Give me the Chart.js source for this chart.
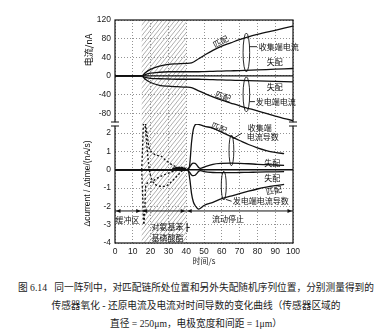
<!DOCTYPE html>
<html><head><meta charset="utf-8">
<script src="https://cdn.jsdelivr.net/npm/chart.js@4/dist/chart.umd.min.js"></script>
<style>
html,body{margin:0;padding:0;background:#fff;overflow:hidden}
#wrap{position:relative;width:385px;height:333px;background:#fff}
#box{position:absolute;left:0;top:0;width:385px;height:270px}
.cap{position:absolute;left:0;width:392px;text-align:center;white-space:nowrap;font-size:9.7px;line-height:12px;color:#1a1a1a;font-family:"Liberation Serif","Noto Sans CJK SC",serif}
</style></head><body>
<div id="wrap">
<div id="box"><canvas id="chart"></canvas></div>
<div class="cap" style="top:282px">图 6.14&nbsp;&nbsp;&nbsp;同一阵列中，对匹配链所处位置和另外失配随机序列位置，分别测量得到的</div>
<div class="cap" style="top:300px">传感器氧化 - 还原电流及电流对时间导数的变化曲线（传感器区域的</div>
<div class="cap" style="top:318px">直径 = 250μm，电极宽度和间距 = 1μm）</div>
</div>
<script>
// ---------- tick labels ----------
const X_TICKS = [0, 10, 20, 30, 40, 50, 60, 70, 80, 90, 100];
const CURRENT_TICKS = [120, 80, 40, 0, -40, -80];
const DERIV_TICKS = [2, 1, 0, -1, -2, -3, -4];

// ---------- phases (time, s) ----------
const HATCH = [15, 40];
const PHASES = [0, 15, 40, 100];

// ---------- top panel: current (nA) ----------
const TIME_C = [0, 15, 17, 20, 25, 30, 35, 40, 43, 47, 50, 55, 60, 65, 70, 80, 90, 100];
const COLLECTOR_MATCH    = [0, 0, 7, 14, 21, 25, 26, 27, 28, 37, 44, 55, 64, 71, 78, 89, 98, 107];
const COLLECTOR_MISMATCH = [0, 0, 3, 6, 8, 9, 9, 9, 9, 9, 9.5, 10, 10.5, 11, 11.5, 13, 14.5, 16];
const GENERATOR_MISMATCH = [0, 0, -3, -5, -6, -6.5, -7, -7, -7, -7, -7.5, -8, -8.5, -9, -9.5, -10.5, -11.5, -12.5];
const GENERATOR_MATCH    = [0, 0, -7, -14, -20, -22, -23, -24, -25, -32, -37, -45, -52, -58, -64, -75, -86, -96];
const ZERO_T = [0, 100];
const ZERO_V = [0, 0];

// ---------- bottom panel: d(current)/dt (nA/s) ----------
const TIME_D = [0, 40, 41, 42, 43, 44, 45, 46, 47, 48, 50, 55, 60, 65, 70, 75, 80, 85, 90, 95];
const COLL_DERIV_MATCH    = [0, 0, 0, 0.3, 1.5, 2.2, 2.45, 2.5, 2.48, 2.45, 2.38, 2.28, 2.05, 1.82, 1.6, 1.38, 1.2, 1.05, 0.95, 0.88];
const GEN_DERIV_MATCH     = [0, 0, 0, -0.5, -1.3, -1.75, -1.95, -2.08, -2.15, -2.1, -1.95, -1.78, -1.58, -1.44, -1.3, -1.17, -1.05, -0.95, -0.87, -0.8];
const COLL_DERIV_MISMATCH = [0, 0, 0.05, 0.15, 0.3, 0.36, 0.35, 0.25, 0.12, 0.08, 0.15, 0.3, 0.35, 0.36, 0.35, 0.33, 0.3, 0.28, 0.26, 0.24];
const GEN_DERIV_MISMATCH  = [0, 0, -0.05, -0.15, -0.28, -0.32, -0.3, -0.2, -0.08, -0.05, -0.1, -0.15, -0.16, -0.16, -0.15, -0.14, -0.13, -0.12, -0.11, -0.1];

// dashed traces during substrate injection
const DASH_UP_T   = [15, 16.4, 17.6, 19.2, 21, 23, 25.8, 28.6, 32, 36, 40];
const DASH_UP     = [0, 2.9, 2.2, 1.2, 0.95, 0.8, 0.75, 0.5, 0.28, 0.1, 0];
const DASH_DOWN_T = [15, 15.6, 16.2, 16.8, 17.3, 20.2, 23, 26.7, 30, 34.3, 40];
const DASH_DOWN   = [0, -1.6, -3.0, -2.0, -0.84, -0.67, -0.5, -0.31, -0.18, -0.05, 0];
const DASH_DIP_T  = [16.8, 18, 19.2, 21, 23.8, 27.7, 31.4, 35.2, 39, 40];
const DASH_DIP    = [2.6, 1.2, 0.05, -0.6, -0.86, -0.91, -0.68, -0.31, 0, 0];
const BEAD_T = [33, 34.5, 36, 37.5, 39];
const BEAD_V = [0.04, 0.07, 0.09, 0.08, 0.05];

const ARROW_V = -2.25;

const pts = (T, V) => T.map((t, i) => ({x: t, y: V[i]}));
function ds(T, V, axis, dash) {
  return {data: pts(T, V), yAxisID: axis, borderColor: '#111', borderWidth: 1.3,
    borderDash: dash || [], pointRadius: 0, fill: false, cubicInterpolationMode: 'monotone'};
}

const CJK = '"Noto Sans CJK SC", sans-serif';

const annot = {
  id: 'annot',
  beforeDatasetsDraw(chart) {
    const {ctx, chartArea: a, scales: {x}} = chart;
    const x1 = x.getPixelForValue(HATCH[0]), x2 = x.getPixelForValue(HATCH[1]);
    const h = a.bottom - a.top;
    ctx.save();
    ctx.beginPath(); ctx.rect(x1, a.top, x2 - x1, h); ctx.clip();
    ctx.strokeStyle = '#8c8c8c'; ctx.lineWidth = 0.7;
    ctx.beginPath();
    const dx = h * 0.8;
    for (let s = x1 - dx; s < x2 + 5; s += 4.2) {
      ctx.moveTo(s, a.bottom); ctx.lineTo(s + dx, a.top);
    }
    ctx.stroke();
    ctx.restore();
  },
  afterDatasetsDraw(chart) {
    const {ctx, chartArea: a, scales} = chart;
    const x = scales.x, yc = scales.yc, yd = scales.yd;
    const X = t => x.getPixelForValue(t);
    const Y = (ax, v) => (ax === 'yc' ? yc : yd).getPixelForValue(v);
    ctx.save();
    // frame
    ctx.strokeStyle = '#111'; ctx.lineWidth = 1.2;
    ctx.strokeRect(a.left, a.top, a.right - a.left, a.bottom - a.top);
    // axis break marks
    const yb = yc.bottom;
    [a.left, a.right].forEach(px => {
      ctx.fillStyle = '#fff';
      ctx.fillRect(px - 2, yb - 1.8, 4, 3.6);
      ctx.strokeStyle = '#111'; ctx.lineWidth = 1;
      ctx.beginPath();
      ctx.moveTo(px - 4, yb - 2); ctx.lineTo(px + 4, yb - 2);
      ctx.moveTo(px - 4, yb + 2); ctx.lineTo(px + 4, yb + 2);
      ctx.stroke();
    });
    // phase arrows
    const ya = Y('yd', ARROW_V);
    ctx.strokeStyle = '#111'; ctx.fillStyle = '#111'; ctx.lineWidth = 1;
    ctx.beginPath(); ctx.moveTo(X(PHASES[0]), ya); ctx.lineTo(X(PHASES[PHASES.length - 1]), ya); ctx.stroke();
    const head = (px, dir) => {
      ctx.beginPath(); ctx.moveTo(px, ya); ctx.lineTo(px - dir * 4.5, ya - 2); ctx.lineTo(px - dir * 4.5, ya + 2);
      ctx.closePath(); ctx.fill();
    };
    for (let i = 0; i < PHASES.length - 1; i++) {
      head(X(PHASES[i]) + 1, -1);
      head(X(PHASES[i + 1]) - 1, 1);
    }
    // small tick under the injection label
    ctx.beginPath(); ctx.moveTo(X(40.5), Y('yd', -2.9)); ctx.lineTo(X(40.5), Y('yd', -3.4));
    ctx.moveTo(X(40.5), Y('yd', -3.15)); ctx.lineTo(X(42), Y('yd', -3.15)); ctx.stroke();
    // ellipses grouping curves
    ctx.lineWidth = 0.9;
    [[73.8, 92, 8.6, 'yc', 3.3], [73.8, -2, -77, 'yc', 3.3], [65.4, 1.9, 0.22, 'yd', 2.4], [61.1, -0.08, -1.65, 'yd', 2.5]]
      .forEach(([t, v1, v2, ax, rx]) => {
        const cy = (Y(ax, v1) + Y(ax, v2)) / 2, ry = Math.abs(Y(ax, v2) - Y(ax, v1)) / 2;
        ctx.beginPath(); ctx.ellipse(X(t), cy, rx, ry, 0, 0, Math.PI * 2); ctx.stroke();
      });
    // leaders
    [[75.6, 62.8, 79.8, 62.8, 'yc'], [75.6, -55, 78.6, -55, 'yc'], [66.3, 1.7, 71.3, 2.0, 'yd'], [62.3, -1.62, 65.5, -1.72, 'yd']]
      .forEach(([t1, v1, t2, v2, ax]) => {
        ctx.beginPath(); ctx.moveTo(X(t1), Y(ax, v1)); ctx.lineTo(X(t2), Y(ax, v2)); ctx.stroke();
      });
    // text labels
    ctx.fillStyle = '#111'; ctx.textBaseline = 'middle';
    const lab = (text, t, v, ax, align, rot, size) => {
      ctx.save();
      ctx.font = (size || 8) + 'px ' + CJK;
      ctx.textAlign = align;
      ctx.translate(X(t), Y(ax, v));
      if (rot) ctx.rotate(rot * Math.PI / 180);
      ctx.fillText(text, 0, 0);
      ctx.restore();
    };
    lab('匹配', 59.3, 74, 'yc', 'center', -28);
    lab('收集端电流', 80.8, 62.8, 'yc', 'left');
    lab('失配', 89.8, 30, 'yc', 'center');
    lab('失配', 89.8, -23.6, 'yc', 'center');
    lab('匹配', 60.7, -44, 'yc', 'center', 20);
    lab('发电端电流', 79.1, -55, 'yc', 'left');
    lab('匹配', 58.5, 2.28, 'yd', 'center', 22);
    lab('收集端', 74.6, 2.31, 'yd', 'left');
    lab('电流导数', 74, 1.77, 'yd', 'left');
    lab('失配', 88.4, 0.36, 'yd', 'center');
    lab('失配', 88.4, -0.42, 'yd', 'center');
    lab('匹配', 89.3, -1.13, 'yd', 'center', -10);
    lab('发电端电流导数', 66.1, -1.72, 'yd', 'left');
    lab('缓冲区', 7, -2.72, 'yd', 'center');
    lab('对氨基苯', 29.5, -3.15, 'yd', 'center');
    lab('基磷酸酯', 29.5, -3.7, 'yd', 'center');
    lab('流动停止', 63.5, -2.66, 'yd', 'center');
    // y axis titles
    ctx.save();
    ctx.translate(88.5, yc.top + 30); ctx.rotate(-Math.PI / 2);
    ctx.textAlign = 'center';
    ctx.font = '9px ' + CJK; ctx.fillText('电流/nA', 0, 0);
    ctx.restore();
    ctx.save();
    ctx.translate(88, (yd.top + yd.bottom) / 2); ctx.rotate(-Math.PI / 2);
    ctx.textAlign = 'center';
    ctx.font = '8.5px "Liberation Sans", sans-serif'; ctx.fillText('Δcurrent / Δtime/(nA/s)', 0, 0);
    ctx.restore();
    ctx.restore();
  }
};

const tickFont = {family: '"Liberation Sans", sans-serif', size: 8.5};
const gridCfg = {color: '#777', lineWidth: 0.8, drawTicks: false};
const borderCfg = {display: false, dash: [1, 2]};
const yTicks = {font: tickFont, color: '#222', padding: 4, autoSkip: false};

new Chart(document.getElementById('chart'), {
  type: 'line',
  data: {
    datasets: [
      ds(ZERO_T, ZERO_V, 'yc'),
      ds(TIME_C, COLLECTOR_MATCH, 'yc'),
      ds(TIME_C, COLLECTOR_MISMATCH, 'yc'),
      ds(TIME_C, GENERATOR_MISMATCH, 'yc'),
      ds(TIME_C, GENERATOR_MATCH, 'yc'),
      ds(ZERO_T, ZERO_V, 'yd'),
      ds(TIME_D, COLL_DERIV_MATCH, 'yd'),
      ds(TIME_D, GEN_DERIV_MATCH, 'yd'),
      ds(TIME_D, COLL_DERIV_MISMATCH, 'yd'),
      ds(TIME_D, GEN_DERIV_MISMATCH, 'yd'),
      ds(DASH_UP_T, DASH_UP, 'yd', [2, 2]),
      ds(DASH_DOWN_T, DASH_DOWN, 'yd', [2, 2]),
      ds(DASH_DIP_T, DASH_DIP, 'yd', [2, 2]),
      {data: pts(BEAD_T, BEAD_V), yAxisID: 'yd', showLine: false, pointRadius: 1.7,
       pointBackgroundColor: '#111', pointBorderWidth: 0}
    ]
  },
  options: {
    responsive: true, maintainAspectRatio: false, animation: false,
    layout: {padding: {left: 0, top: 20, right: 92, bottom: 0}},
    plugins: {legend: {display: false}, tooltip: {enabled: false}},
    scales: {
      x: {
        type: 'linear', min: 0, max: 100,
        afterBuildTicks: s => { s.ticks = X_TICKS.map(v => ({value: v})); },
        afterFit: s => { s.height = 27; },
        ticks: {font: tickFont, color: '#222', padding: 4, maxRotation: 0, autoSkip: false},
        grid: gridCfg, border: borderCfg,
        title: {display: true, text: '时间/s', font: {family: CJK, size: 8}, color: '#222', padding: {top: 0, bottom: 4}}
      },
      yd: {
        type: 'linear', position: 'left', stack: 'panels', stackWeight: 119, min: -4, max: 2.5,
        afterBuildTicks: s => { s.ticks = DERIV_TICKS.map(v => ({value: v})); },
        afterFit: s => { s.width = 115; },
        ticks: yTicks,
        grid: gridCfg, border: borderCfg
      },
      yc: {
        type: 'linear', position: 'left', stack: 'panels', stackWeight: 104, min: -103, max: 120,
        afterBuildTicks: s => { s.ticks = CURRENT_TICKS.map(v => ({value: v})); },
        afterFit: s => { s.width = 115; },
        ticks: yTicks,
        grid: gridCfg, border: borderCfg
      }
    }
  },
  plugins: [annot]
});
</script>
</body></html>
